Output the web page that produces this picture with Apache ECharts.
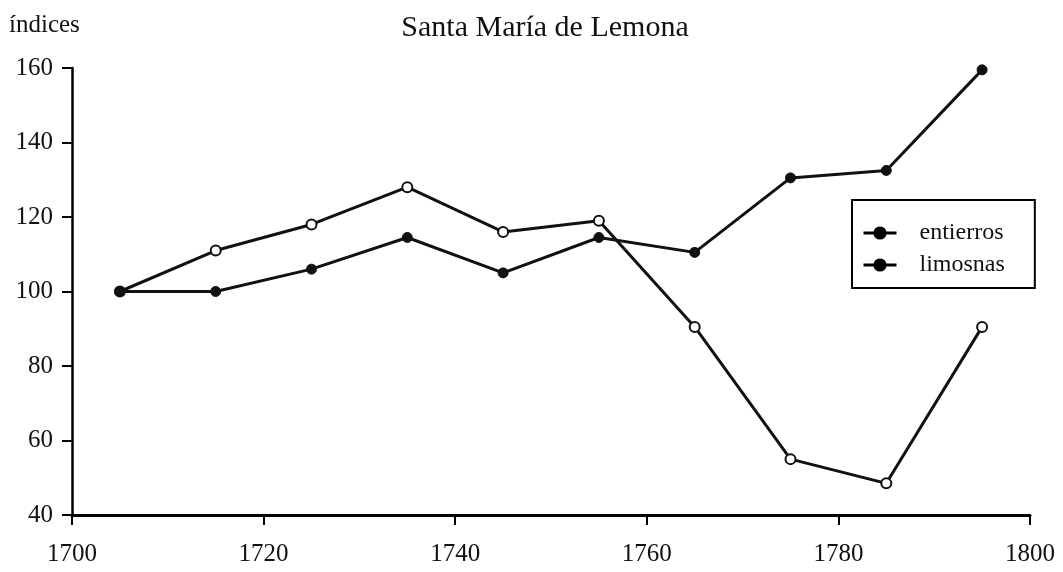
<!DOCTYPE html>
<html>
<head>
<meta charset="utf-8">
<script src="https://cdn.jsdelivr.net/npm/echarts@6/dist/echarts.min.js"></script>
<style>
  html, body { margin: 0; padding: 0; background: #fff; }
  #chart { width: 1063px; height: 572px; }
</style>
</head>
<body>
<div id="chart"></div>
<script>
// Index values (base 100) by decade midpoint, Santa María de Lemona
const years = [1705, 1715, 1725, 1735, 1745, 1755, 1765, 1775, 1785, 1795];
const entierros = [100, 111, 118, 128, 116, 119, 90.5, 55, 48.5, 90.5];
const limosnas = [100, 100, 106, 114.5, 105, 114.5, 110.5, 130.5, 132.5, 159.5];
const seriesNames = ['entierros', 'limosnas'];
const titleText = 'Santa María de Lemona';
const yAxisTitle = 'índices';

const serif = '"Liberation Serif", "DejaVu Serif", serif';
const pairs = (vals) => years.map((y, i) => [y, vals[i]]);

const chart = echarts.init(document.getElementById('chart'), null, { renderer: 'canvas' });
chart.setOption({
  backgroundColor: '#ffffff',
  animation: false,
  title: {
    text: titleText,
    left: 540,
    textAlign: 'center',
    top: 8,
    textStyle: { fontFamily: serif, fontSize: 30, fontWeight: 'normal', color: '#111' }
  },
  graphic: [{
    type: 'text',
    left: 9,
    top: 13,
    style: { text: yAxisTitle, font: '25px ' + serif, fill: '#111' }
  }],
  legend: {
    orient: 'vertical',
    left: 852,
    top: 200,
    padding: [21, 30, 11, 10],
    itemGap: 8,
    itemWidth: 33,
    itemHeight: 14,
    borderColor: '#000',
    borderWidth: 2,
    backgroundColor: '#fff',
    lineStyle: { width: 3, color: '#000' },
    textStyle: { fontFamily: serif, fontSize: 24, color: '#111', padding: [0, 0, 0, 18] },
    data: seriesNames.map(n => ({ name: n, itemStyle: { color: '#000', borderColor: '#000' } }))
  },
  grid: { left: 72, right: 33, top: 68, bottom: 57, containLabel: false },
  xAxis: {
    type: 'value',
    min: 1700,
    max: 1800,
    interval: 20,
    axisLine: { lineStyle: { color: '#000', width: 3 } },
    axisTick: { show: true, length: 10, lineStyle: { color: '#000', width: 2 } },
    axisLabel: {
      fontFamily: serif, fontSize: 25, color: '#111', margin: 27,
      formatter: (v) => String(v)
    },
    splitLine: { show: false }
  },
  yAxis: {
    type: 'value',
    min: 40,
    max: 160,
    interval: 20,
    axisLine: { show: true, lineStyle: { color: '#000', width: 2.5 } },
    axisTick: { show: true, length: 10, lineStyle: { color: '#000', width: 2 } },
    axisLabel: { fontFamily: serif, fontSize: 25, color: '#111', margin: 19 },
    splitLine: { show: false }
  },
  series: [
    {
      name: seriesNames[0],
      type: 'line',
      data: pairs(entierros),
      symbol: 'circle',
      symbolSize: 10,
      lineStyle: { color: '#111', width: 3 },
      itemStyle: { color: '#fff', borderColor: '#111', borderWidth: 2 }
    },
    {
      name: seriesNames[1],
      type: 'line',
      data: pairs(limosnas),
      symbol: 'circle',
      symbolSize: 10,
      lineStyle: { color: '#111', width: 3 },
      itemStyle: { color: '#111', borderColor: '#111', borderWidth: 1 }
    }
  ]
});
</script>
</body>
</html>
